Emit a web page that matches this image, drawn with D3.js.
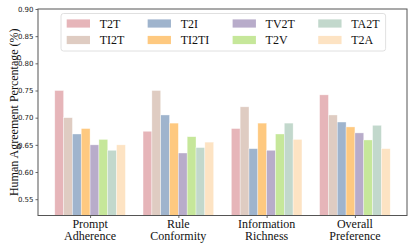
<!DOCTYPE html>
<html>
<head>
<meta charset="utf-8">
<script src="https://cdn.jsdelivr.net/npm/d3@7"></script>
<style>
  html, body { margin: 0; padding: 0; background: #fff; }
  svg { display: block; }
</style>
</head>
<body>
<svg id="chart" width="415" height="249"></svg>
<script>
// categories on the x axis (two lines each)
const categories = [
  ["Prompt", "Adherence"],
  ["Rule", "Conformity"],
  ["Information", "Richness"],
  ["Overall", "Preference"],
];

const seriesNames = ["T2T", "TI2T", "T2I", "TI2TI", "TV2T", "T2V", "TA2T", "T2A"];
const seriesColors = ["#e6b5b9", "#dfccc2", "#9fb4cd", "#fec980", "#b8acca", "#c6e79a", "#c2d8cc", "#fde3c3"];

// one array per series, one value per category
const t2t   = [0.750, 0.675, 0.680, 0.742];
const ti2t  = [0.700, 0.750, 0.720, 0.705];
const t2i   = [0.670, 0.705, 0.643, 0.692];
const ti2ti = [0.680, 0.690, 0.690, 0.683];
const tv2t  = [0.650, 0.635, 0.640, 0.672];
const t2v   = [0.660, 0.665, 0.670, 0.659];
const ta2t  = [0.640, 0.645, 0.690, 0.686];
const t2a   = [0.650, 0.655, 0.660, 0.643];
const seriesValues = [t2t, ti2t, t2i, ti2ti, tv2t, t2v, ta2t, t2a];

const yTicks = [0.55, 0.60, 0.65, 0.70, 0.75, 0.80, 0.85, 0.90];

const plot = {left: 38, right: 407, top: 9, bottom: 215.5};
const barWidth = 0.1;

const svg = d3.select("#chart");

// x in "group units", like matplotlib: groups at 0..3, 5% margin
const x = d3.scaleLinear().domain([-0.59, 3.59]).range([plot.left, plot.right]);
const y = d3.scaleLinear().domain([0.52, 0.90]).range([plot.bottom, plot.top]);

// bars
const bars = [];
seriesValues.forEach((vals, s) => {
  vals.forEach((v, c) => bars.push({s, c, v}));
});

svg.append("g")
  .selectAll("rect")
  .data(bars)
  .join("rect")
  .attr("x", d => x(d.c + (d.s - 3.5) * barWidth - barWidth / 2))
  .attr("width", d => x(barWidth) - x(0))
  .attr("y", d => y(d.v))
  .attr("height", d => y(0.52) - y(d.v))
  .attr("fill", d => seriesColors[d.s])
  .attr("stroke", "#fff")
  .attr("stroke-opacity", 0.6)
  .attr("stroke-width", 0.6);

// y axis
const yAxis = d3.axisLeft(y)
  .tickValues(yTicks)
  .tickFormat(d3.format(".2f"))
  .tickSize(2.5)
  .tickPadding(2);

const gy = svg.append("g")
  .attr("transform", `translate(${plot.left},0)`)
  .call(yAxis);
gy.select(".domain").remove();
gy.selectAll("line").attr("stroke", "#444").attr("stroke-width", 0.8);
gy.selectAll("text")
  .attr("font-family", "DejaVu Sans, sans-serif")
  .attr("font-size", 7)
  .attr("fill", "#222");

// x axis
const xAxis = d3.axisBottom(x)
  .tickValues(d3.range(categories.length))
  .tickFormat("")
  .tickSize(2.5);

const gx = svg.append("g")
  .attr("transform", `translate(0,${plot.bottom})`)
  .call(xAxis);
gx.select(".domain").remove();
gx.selectAll("line").attr("stroke", "#444").attr("stroke-width", 0.8);

const xLabels = svg.append("g")
  .selectAll("text")
  .data(categories)
  .join("text")
  .attr("x", (d, i) => x(i))
  .attr("y", 228.3)
  .attr("text-anchor", "middle")
  .attr("font-family", "Liberation Serif, Times New Roman, serif")
  .attr("font-size", 12)
  .attr("fill", "#111");
xLabels.selectAll("tspan")
  .data(d => d)
  .join("tspan")
  .attr("x", function() { return d3.select(this.parentNode).attr("x"); })
  .attr("dy", (d, i) => i === 0 ? 0 : 11.2)
  .text(d => d);

// frame
svg.append("rect")
  .attr("x", plot.left)
  .attr("y", plot.top)
  .attr("width", plot.right - plot.left)
  .attr("height", plot.bottom - plot.top)
  .attr("fill", "none")
  .attr("stroke", "#555")
  .attr("stroke-width", 1);

// y label
svg.append("text")
  .attr("transform", `translate(17.5,${(plot.top + plot.bottom) / 2}) rotate(-90)`)
  .attr("text-anchor", "middle")
  .attr("font-family", "Liberation Serif, Times New Roman, serif")
  .attr("font-size", 12)
  .attr("fill", "#111")
  .text("Human Agreement Percentage (%)");

// legend: 4 columns x 2 rows, column-major like matplotlib ncol=4
const legend = svg.append("g");
const legendBox = legend.append("rect")
  .attr("fill", "#fff")
  .attr("fill-opacity", 0.85)
  .attr("stroke", "#d8d8d8")
  .attr("stroke-width", 0.8)
  .attr("rx", 2.5);

const handleLen = 23.3, handleH = 8.2, textPad = 9.7, colSpacing = 23.3;
const rowY = [23.5, 40];
const ncol = 4;
let colX = 66.7;
let lastRight = 0;
for (let col = 0; col < ncol; col++) {
  let maxW = 0;
  for (let row = 0; row < 2; row++) {
    const idx = col * 2 + row;
    legend.append("rect")
      .attr("x", colX)
      .attr("y", rowY[row] - handleH / 2)
      .attr("width", handleLen)
      .attr("height", handleH)
      .attr("fill", seriesColors[idx]);
    const t = legend.append("text")
      .attr("x", colX + handleLen + textPad)
      .attr("y", rowY[row] + 4.2)
      .attr("font-family", "Liberation Serif, Times New Roman, serif")
      .attr("font-size", 12)
      .attr("fill", "#111")
      .text(seriesNames[idx]);
    maxW = Math.max(maxW, t.node().getComputedTextLength());
  }
  lastRight = colX + handleLen + textPad + maxW;
  colX = lastRight + colSpacing;
}
legendBox
  .attr("x", 61)
  .attr("y", 13.5)
  .attr("width", lastRight + 6 - 61)
  .attr("height", 51 - 13.5);
</script>
</body>
</html>
